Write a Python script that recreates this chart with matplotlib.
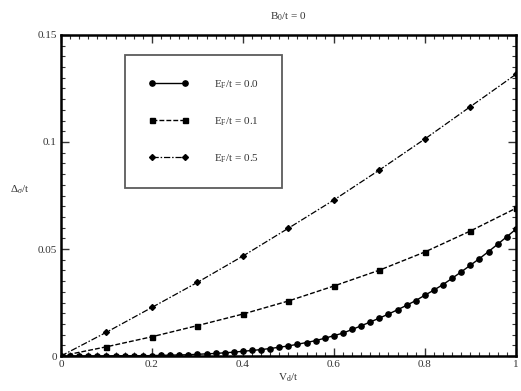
import matplotlib
matplotlib.use("Agg")
import matplotlib.pyplot as plt
from matplotlib.ticker import MultipleLocator

plt.rcParams["font.family"] = ["Liberation Serif", "DejaVu Serif"]
plt.rcParams["mathtext.fontset"] = "custom"
plt.rcParams["mathtext.rm"] = "Liberation Serif"
plt.rcParams["mathtext.it"] = "Liberation Serif:italic"

# E_F/t = 0.0 : dense sampling, step 0.02
v_dense = [0.00, 0.02, 0.04, 0.06, 0.08, 0.10, 0.12, 0.14, 0.16, 0.18,
           0.20, 0.22, 0.24, 0.26, 0.28, 0.30, 0.32, 0.34, 0.36, 0.38,
           0.40, 0.42, 0.44, 0.46, 0.48, 0.50, 0.52, 0.54, 0.56, 0.58,
           0.60, 0.62, 0.64, 0.66, 0.68, 0.70, 0.72, 0.74, 0.76, 0.78,
           0.80, 0.82, 0.84, 0.86, 0.88, 0.90, 0.92, 0.94, 0.96, 0.98, 1.00]
gap_e00 = [0.0000, 0.0000, 0.0000, 0.0000, 0.0000, 0.0000, 0.0001, 0.0001, 0.0001, 0.0001,
           0.0002, 0.0003, 0.0004, 0.0005, 0.0006, 0.0008, 0.0010, 0.0012, 0.0015, 0.0018,
           0.0022, 0.0026, 0.0030, 0.0035, 0.0041, 0.0047, 0.0055, 0.0063, 0.0072, 0.0083,
           0.0095, 0.0107, 0.0124, 0.0141, 0.0159, 0.0177, 0.0196, 0.0216, 0.0237, 0.0259,
           0.0284, 0.0308, 0.0334, 0.0363, 0.0393, 0.0424, 0.0455, 0.0488, 0.0522, 0.0557, 0.0592]

# E_F/t = 0.1 and 0.5 : step 0.1
v_coarse = [0.0, 0.1, 0.2, 0.3, 0.4, 0.5, 0.6, 0.7, 0.8, 0.9, 1.0]
gap_e01 = [0.0, 0.0043, 0.0090, 0.0142, 0.0196, 0.0257, 0.0327, 0.0401, 0.0486, 0.0584, 0.0690]
gap_e05 = [0.0, 0.0111, 0.0227, 0.0344, 0.0467, 0.0597, 0.0729, 0.0869, 0.1014, 0.1165, 0.1316]

labels = [r"E$_{\mathrm{F}}$/t = 0.0", r"E$_{\mathrm{F}}$/t = 0.1", r"E$_{\mathrm{F}}$/t = 0.5"]

fig = plt.figure(figsize=(5.21, 3.91), dpi=100)
ax = fig.add_axes([0.117, 0.0895, 0.873, 0.821])

ax.plot(v_dense, gap_e00, color="black", linestyle="-", linewidth=1.0,
        marker="o", markersize=3.8, label=labels[0])
ax.plot(v_coarse, gap_e01, color="black", linestyle=(0, (3.5, 1.5)), linewidth=1.0,
        marker="s", markersize=3.6, label=labels[1])
ax.plot(v_coarse, gap_e05, color="black", linestyle=(0, (5, 1.5, 1.2, 1.5)), linewidth=0.9,
        marker="D", markersize=3.0, label=labels[2])

ax.set_xlim(0, 1)
ax.set_ylim(0, 0.15)
ax.xaxis.set_minor_locator(MultipleLocator(0.02))
ax.yaxis.set_minor_locator(MultipleLocator(0.005))
ax.set_xticks([0, 0.2, 0.4, 0.6, 0.8, 1.0])
ax.set_xticklabels(["0", "0.2", "0.4", "0.6", "0.8", "1"])
ax.set_yticks([0, 0.05, 0.1, 0.15])
ax.set_yticklabels(["0", "0.05", "0.1", "0.15"])
ax.tick_params(which="both", direction="in", top=True, right=True,
               labelsize=8, pad=3, colors="#333333", labelcolor="#333333")
ax.tick_params(which="major", length=6, width=1.0)
ax.tick_params(which="minor", length=3, width=0.8)
for sp in ax.spines.values():
    sp.set_linewidth(1.8)

ax.set_xlabel(r"V$_{\mathrm{d}}$/t", fontsize=8, color="#333333", labelpad=2)
ax.set_ylabel(r"$\Delta_{\sigma}$/t", fontsize=8, color="#333333", rotation=0)
ax.yaxis.set_label_coords(-0.09, 0.5)
ax.set_title(r"B$_{0}$/t = 0", fontsize=8, color="#333333", pad=11)

leg = ax.legend(loc="upper left", bbox_to_anchor=(0.1407, 0.9377), borderaxespad=0,
                fontsize=8, frameon=True, fancybox=False, numpoints=2, handlelength=3.6,
                handletextpad=2.3, labelspacing=2.2, borderpad=2.1)
leg.get_frame().set_edgecolor("#333333")
leg.get_frame().set_linewidth(1.3)
for t in leg.get_texts():
    t.set_color("#333333")

fig.savefig("out.png", dpi=100)
